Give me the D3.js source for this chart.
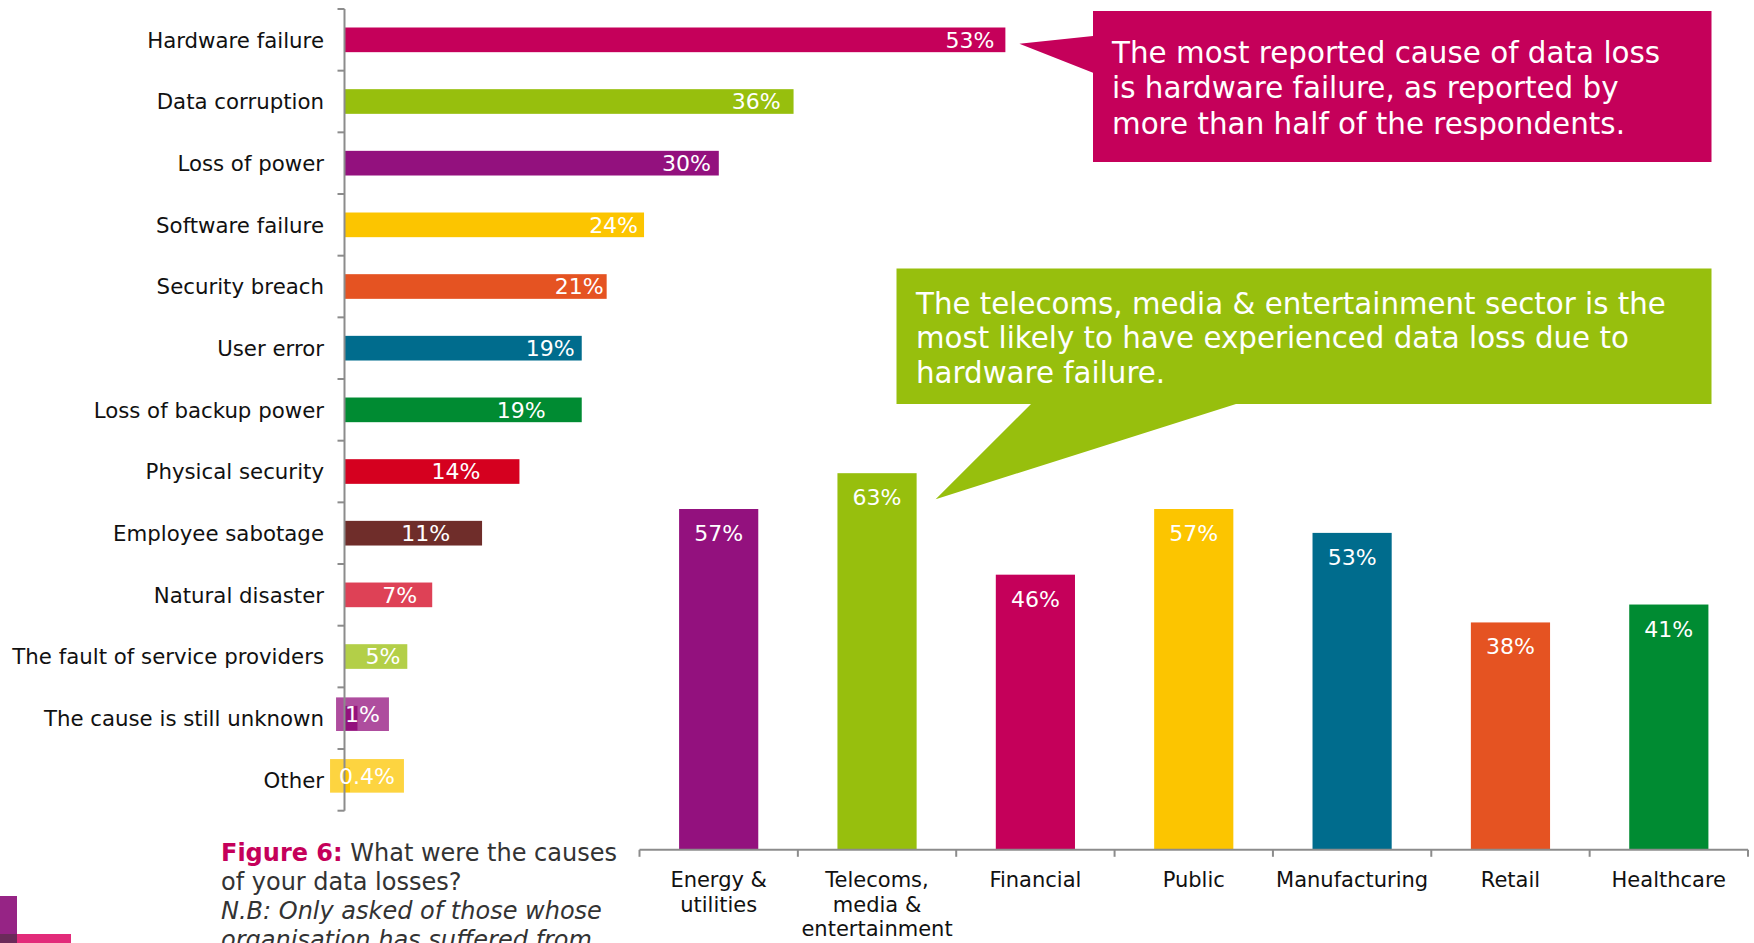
<!DOCTYPE html>
<html>
<head>
<meta charset="utf-8">
<script src="https://cdn.jsdelivr.net/npm/d3@7"></script>
<style>
  html, body { margin: 0; padding: 0; background: #ffffff; }
  svg { display: block; font-family: "DejaVu Sans", Verdana, sans-serif; }
</style>
</head>
<body>
<svg id="chart" width="1754" height="943"></svg>
<script>
// ---------- data ----------
const causes = [
  "Hardware failure", "Data corruption", "Loss of power", "Software failure",
  "Security breach", "User error", "Loss of backup power", "Physical security",
  "Employee sabotage", "Natural disaster", "The fault of service providers",
  "The cause is still unknown", "Other"
];
const causeValues = [53, 36, 30, 24, 21, 19, 19, 14, 11, 7, 5, 1, 0.4];

const sectors = [
  "Energy & utilities", "Telecoms, media & entertainment", "Financial",
  "Public", "Manufacturing", "Retail", "Healthcare"
];
const sectorLines = [
  ["Energy &", "utilities"], ["Telecoms,", "media &", "entertainment"], ["Financial"],
  ["Public"], ["Manufacturing"], ["Retail"], ["Healthcare"]
];
const sectorValues = [57, 63, 46, 57, 53, 38, 41];

const titleLines = [
  "What were the causes", "of your data losses?",
  "N.B: Only asked of those whose", "organisation has suffered from"
];
const calloutTop = [
  "The most reported cause of data loss",
  "is hardware failure, as reported by",
  "more than half of the respondents."
];
const calloutBottom = [
  "The telecoms, media & entertainment sector is the",
  "most likely to have experienced data loss due to",
  "hardware failure."
];

// ---------- styles ----------
const causeColors = ["#C5005A", "#97BF0D", "#93117E", "#FCC500", "#E55322", "#006C8D",
  "#008B32", "#D5001F", "#6F2D2A", "#DE4156", "#B3CF48", "#93117E", "#FCC500"];
// inset of value label from bar end (large bars) / centre offset from axis (small bars)
const labelInsets = [11, 13, 8, 6, 3, 7, 36, 39, 32, 15, 7, 17.5, 22];
const sectorColors = ["#93117E", "#97BF0D", "#C5005A", "#FCC500", "#006C8D", "#E55322", "#008B32"];
const MAGENTA = "#C5005A", LIME = "#97BF0D", AXIS = "#8c8c8c";

const svg = d3.select("#chart");

// ---------- left: horizontal bars ----------
const xL = d3.scaleLinear().domain([0, 60]).range([345, 345 + 60 * 12.46]);
const yL = d3.scaleBand().domain(causes).range([9, 810.7]).padding(0);
const step = yL.bandwidth();
const barH = step * 0.4;
const left = svg.append("g");
const cause = causes.map((c, i) => ({c, v: causeValues[i], col: causeColors[i], inset: labelInsets[i]}));

left.selectAll("rect.bar").data(cause).join("rect")
  .attr("class", "bar")
  .attr("x", xL(0))
  .attr("y", d => yL(d.c) + (step - barH) / 2)
  .attr("width", d => xL(d.v) - xL(0))
  .attr("height", barH)
  .attr("fill", d => d.col);

// category labels
left.selectAll("text.cat").data(cause).join("text")
  .attr("class", "cat")
  .attr("x", 324)
  .attr("y", d => yL(d.c) + step / 2)
  .attr("dy", "0.36em")
  .attr("text-anchor", "end")
  .attr("font-size", 21.3)
  .attr("fill", "#111")
  .text(d => d.c);

const fmt = v => (v < 1 ? d3.format(".1f")(v) : d3.format("d")(v)) + "%";

// small-value label boxes
const small = cause.filter(d => d.v < 2);
const big = cause.filter(d => d.v >= 2);
const smallG = left.selectAll("g.small").data(small).join("g").attr("class", "small");
smallG.append("rect").attr("class", "box");

// axis
left.append("line")
  .attr("x1", xL(0) - 0.5).attr("x2", xL(0) - 0.5)
  .attr("y1", yL.range()[0]).attr("y2", yL.range()[1])
  .attr("stroke", AXIS).attr("stroke-width", 2);
const ticksL = causes.map(c => yL(c)).concat([yL.range()[1]]);
left.selectAll("line.tick").data(ticksL).join("line")
  .attr("class", "tick")
  .attr("x1", xL(0) - 7.5).attr("x2", xL(0) - 0.5)
  .attr("y1", d => d).attr("y2", d => d)
  .attr("stroke", AXIS).attr("stroke-width", 2);

// value labels in bars
left.selectAll("text.val").data(big).join("text")
  .attr("class", "val")
  .attr("x", d => xL(d.v) - d.inset)
  .attr("y", d => yL(d.c) + step / 2)
  .attr("dy", "0.36em")
  .attr("text-anchor", "end")
  .attr("font-size", 22)
  .attr("fill", "#fff")
  .text(d => fmt(d.v));

const smallText = left.selectAll("text.sval").data(small).join("text")
  .attr("class", "sval")
  .attr("x", d => xL(0) + d.inset)
  .attr("y", d => yL(d.c) + step / 2 - 4)
  .attr("dy", "0.36em")
  .attr("text-anchor", "middle")
  .attr("font-size", 22)
  .attr("fill", "#fff")
  .text(d => fmt(d.v));
smallText.each(function (d) {
  d.boxW = this.getComputedTextLength() + 18;
});
smallG.select("rect.box")
  .attr("x", d => xL(0) + d.inset - d.boxW / 2)
  .attr("y", d => yL(d.c) + step / 2 - 4 - 16.8)
  .attr("width", d => d.boxW)
  .attr("height", 33.6)
  .attr("fill", d => d.col)
  .attr("fill-opacity", 0.75);

// ---------- right: vertical bars ----------
const xR = d3.scaleBand().domain(sectors).range([639.5, 1748]).padding(0);
const bw = xR.bandwidth();
const yR = d3.scaleLinear().domain([0, 70]).range([849.3, 849.3 - 70 * 5.97]);
const right = svg.append("g");
const sector = sectors.map((s, i) => ({s, v: sectorValues[i], col: sectorColors[i], lines: sectorLines[i]}));

right.selectAll("rect.bar").data(sector).join("rect")
  .attr("class", "bar")
  .attr("x", d => xR(d.s) + bw * 0.25)
  .attr("width", bw * 0.5)
  .attr("y", d => yR(d.v))
  .attr("height", d => yR(0) - yR(d.v))
  .attr("fill", d => d.col);

right.selectAll("text.val").data(sector).join("text")
  .attr("class", "val")
  .attr("x", d => xR(d.s) + bw / 2)
  .attr("y", d => yR(d.v) + 32)
  .attr("text-anchor", "middle")
  .attr("font-size", 22)
  .attr("fill", "#fff")
  .text(d => fmt(d.v));

right.append("line")
  .attr("x1", xR.range()[0]).attr("x2", xR.range()[1])
  .attr("y1", yR(0) + 0.5).attr("y2", yR(0) + 0.5)
  .attr("stroke", AXIS).attr("stroke-width", 2);
const ticksR = sectors.map(s => xR(s)).concat([xR.range()[1]]);
right.selectAll("line.tick").data(ticksR).join("line")
  .attr("class", "tick")
  .attr("x1", d => d).attr("x2", d => d)
  .attr("y1", yR(0) + 0.5).attr("y2", yR(0) + 7.5)
  .attr("stroke", AXIS).attr("stroke-width", 2);

const catR = right.selectAll("text.cat").data(sector).join("text")
  .attr("class", "cat")
  .attr("text-anchor", "middle")
  .attr("font-size", 21)
  .attr("fill", "#111");
catR.selectAll("tspan").data(d => d.lines.map(l => ({l, x: xR(d.s) + bw / 2}))).join("tspan")
  .attr("x", d => d.x)
  .attr("y", (d, i) => 887 + i * 24.7)
  .text(d => d.l);

// ---------- callouts ----------
const hwEndX = xL(causeValues[0]), hwMidY = yL(causes[0]) + step / 2;
const tipTop = [hwEndX + 14, hwMidY + 4];
svg.append("path")
  .attr("d", `M1093,11 H1711.5 V162 H1093 V72.7 L${tipTop[0]},${tipTop[1]} L1093,36 Z`)
  .attr("fill", MAGENTA);
svg.append("text")
  .attr("font-size", 29.4).attr("fill", "#fff")
  .selectAll("tspan").data(calloutTop).join("tspan")
  .attr("x", 1112).attr("y", (d, i) => 62.5 + i * 35.5)
  .text(d => d);

const tcRight = xR(sectors[1]) + bw * 0.75, tcTop = yR(sectorValues[1]);
const tipBot = [tcRight + 19, tcTop + 26];
svg.append("path")
  .attr("d", `M896.5,268.5 H1711.5 V404 H1236 L${tipBot[0]},${tipBot[1]} L1031,404 H896.5 Z`)
  .attr("fill", LIME);
svg.append("text")
  .attr("font-size", 29.3).attr("fill", "#fff")
  .selectAll("tspan").data(calloutBottom).join("tspan")
  .attr("x", 916).attr("y", (d, i) => 313.5 + i * 34.8)
  .text(d => d);

// ---------- figure caption ----------
const cap = svg.append("text").attr("font-size", 24).attr("fill", "#333");
cap.append("tspan").attr("x", 221).attr("y", 861)
  .attr("font-weight", "bold").attr("fill", MAGENTA).text("Figure 6:");
cap.append("tspan").text(" " + titleLines[0]);
titleLines.slice(1).forEach((t, i) => {
  cap.append("tspan").attr("x", 221).attr("y", 890 + i * 29)
    .attr("font-style", i >= 1 ? "italic" : "normal")
    .text(t);
});

// ---------- corner logo ----------
const logo = svg.append("g");
logo.append("rect").attr("x", 0).attr("y", 896).attr("width", 17).attr("height", 47).attr("fill", "#962485");
logo.append("rect").attr("x", 0).attr("y", 934).attr("width", 71).attr("height", 9).attr("fill", "#E22B7A");
logo.append("rect").attr("x", 0).attr("y", 934).attr("width", 17).attr("height", 9).attr("fill", "#6B2B5A");
</script>
</body>
</html>
